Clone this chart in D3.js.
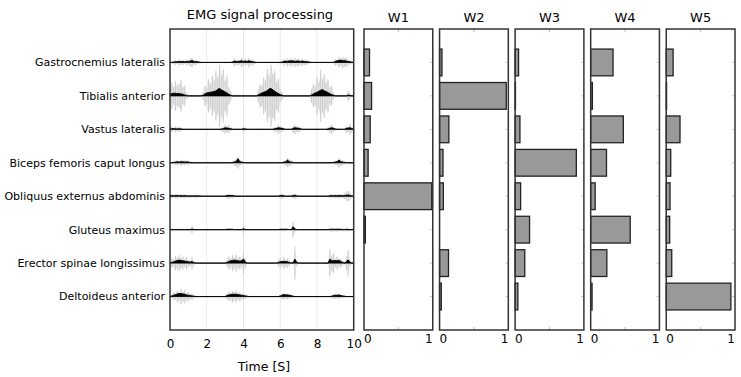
<!DOCTYPE html>
<html>
<head>
<meta charset="utf-8">
<script src="https://cdn.jsdelivr.net/npm/d3@7"></script>
<style>
  body { margin: 0; background: #fff; }
  svg { display: block; font-family: "DejaVu Sans", sans-serif; }
</style>
</head>
<body>
<div id="chart"></div>
<script>
// muscles, top to bottom
let muscles = ["Gastrocnemius lateralis", "Tibialis anterior", "Vastus lateralis", "Biceps femoris caput longus",
    "Obliquus externus abdominis", "Gluteus maximus", "Erector spinae longissimus", "Deltoideus anterior"];

let timeTicks = [0, 2, 4, 6, 8, 10];
let weightPanels = ["W1", "W2", "W3", "W4", "W5"];

// synergy weights, one array per panel, in muscle order
let w1 = [0.08, 0.11, 0.09, 0.06, 0.985, 0.02, 0, 0];
let w2 = [0.035, 0.97, 0.135, 0.05, 0.055, 0, 0.13, 0.025];
let w3 = [0.05, 0.005, 0.07, 0.89, 0.08, 0.21, 0.14, 0.04];
let w4 = [0.325, 0.025, 0.475, 0.23, 0.065, 0.575, 0.235, 0.02];
let w5 = [0.1, 0.005, 0.2, 0.065, 0.055, 0.05, 0.08, 0.94];

// EMG every 0.1 s (0..10 s), row spacing = 100 units
// raw = light gray signal amplitude, env = black processed envelope
let rawGas = [2,3,5,8,4,9,6,8,4,9, 6,12,14,7,8,4,3,2,2,2, 2,2,2,2,2,2,2,2,2,2, 2,2,2,2,3,12,7,9,6,14,
    8,11,6,14,7,9,5,2,2,2, 2,2,2,2,2,2,2,2,2,2, 2,3,10,6,12,8,13,7,14,9, 12,6,11,7,9,5,3,2,2,2,
    2,2,2,2,2,2,2,2,2,3, 10,7,16,10,18,12,15,8,6,3, 2];
let envGas = [0,0,1,2,2,3,2,3,2,3, 3,4,6,3,2,2,1,0,0,0, 0,0,0,0,0,0,0,0,0,0, 0,0,0,0,1,4,3,2,4,5,
    3,4,3,5,3,2,1,0,0,0, 0,0,0,0,0,0,0,0,0,0, 0,1,3,4,3,5,4,5,3,4, 4,3,4,3,2,2,1,0,0,0,
    0,0,0,0,0,0,0,0,0,0, 3,5,6,7,5,6,4,3,2,1, 0];

let rawTib = [20,40,25,45,30,35,48,25,30,10, 4,3,3,3,3,3,3,3,12,30, 25,50,35,60,45,75,55,93,60,80, 45,60,25,15,4,3,3,3,3,3,
    3,3,3,3,3,3,3,3,18,35, 30,55,45,80,60,93,65,75,40,50, 20,12,3,3,3,3,3,3,3,3, 3,3,3,3,3,3,3,20,35,28,
    55,40,78,50,65,40,50,25,30,10, 3,3,3,3,3,3,3,15,8,3, 3];
let envTib = [5,7,8,8,7,7,6,5,3,1, 0,0,0,0,0,0,0,0,2,6, 9,10,11,12,13,15,20,22,18,15, 12,9,5,2,0,0,0,0,0,0,
    0,0,0,0,0,0,0,0,3,6, 9,11,13,16,21,22,18,14,10,7, 4,2,0,0,0,0,0,0,0,0, 0,0,0,0,0,0,0,3,6,9,
    11,14,17,19,15,13,10,7,4,2, 0,0,0,0,0,0,0,3,1,0, 0];

let rawVas = [6,8,4,9,6,8,5,2,2,2, 2,2,2,2,2,2,2,2,2,2, 2,2,2,2,2,2,2,2,4,8, 14,9,12,6,3,2,2,2,2,2,
    10,4,2,2,2,2,2,2,2,2, 2,2,2,2,2,2,2,8,6,14, 9,8,4,2,2,2,2,10,14,8, 10,6,2,2,2,2,2,2,2,2,
    2,2,2,2,2,2,6,10,14,8, 4,2,2,2,2,2,10,7,16,8, 4];
let envVas = [1,2,2,2,1,2,1,0,0,0, 0,0,0,0,0,0,0,0,0,0, 0,0,0,0,0,0,0,0,1,2, 5,4,3,2,0,0,0,0,0,0,
    2,1,0,0,0,0,0,0,0,0, 0,0,0,0,0,0,0,2,3,5, 4,3,1,0,0,0,0,3,5,4, 3,2,0,0,0,0,0,0,0,0,
    0,0,0,0,0,0,1,3,5,3, 1,0,0,0,0,0,3,4,5,2, 1];

let rawBic = [2,2,4,6,8,5,9,6,8,5, 7,4,3,2,2,2,2,2,2,2, 2,2,2,2,2,2,2,2,2,2, 2,2,2,2,4,8,12,18,10,6,
    4,2,2,2,2,2,2,2,2,2, 2,2,2,2,2,2,2,2,2,2, 2,2,6,8,14,10,8,4,2,2, 2,2,2,2,2,2,2,2,2,2,
    2,2,2,2,2,2,2,2,2,4, 6,8,14,10,8,5,2,2,2,2, 2];
let envBic = [0,0,1,2,3,2,3,3,2,3, 2,1,0,0,0,0,0,0,0,0, 0,0,0,0,0,0,0,0,0,0, 0,0,0,0,1,2,4,12,3,2,
    1,0,0,0,0,0,0,0,0,0, 0,0,0,0,0,0,0,0,0,0, 0,0,2,3,8,3,2,1,0,0, 0,0,0,0,0,0,0,0,0,0,
    0,0,0,0,0,0,0,0,0,1, 2,3,8,3,2,1,0,0,0,0, 0];

let rawObl = [5,6,4,6,7,4,6,5,6,4, 4,5,3,3,5,4,3,2,2,2, 2,2,2,2,2,2,2,2,2,2, 2,6,8,5,6,3,2,2,2,2,
    2,2,2,2,2,2,2,2,2,2, 2,2,2,2,2,2,2,2,2,2, 6,8,4,2,2,2,2,6,8,3, 2,2,2,2,2,2,2,2,2,2,
    2,2,2,2,2,2,2,5,6,4, 6,5,7,5,6,8,14,16,10,4, 2];
let envObl = [1,2,1,2,2,1,2,1,2,1, 1,1,1,1,1,1,1,0,0,0, 0,0,0,0,0,0,0,0,0,0, 0,2,2,2,2,1,0,0,0,0,
    0,0,0,0,0,0,0,0,0,0, 0,0,0,0,0,0,0,0,0,0, 2,2,1,0,0,0,0,2,3,1, 0,0,0,0,0,0,0,0,0,0,
    0,0,0,0,0,0,0,1,2,1, 2,1,2,2,1,2,3,4,2,1, 0];

let rawGlu = [2,3,3,2,3,3,2,3,2,3, 3,3,12,3,2,2,2,2,2,2, 2,2,2,2,2,2,2,2,2,2, 2,4,5,4,3,2,2,2,2,2,
    12,4,2,2,2,2,2,2,2,2, 2,2,2,2,2,2,2,2,2,2, 4,5,5,4,3,2,2,24,8,3, 2,2,2,2,2,2,2,2,2,2,
    2,2,2,2,2,2,2,5,6,5, 5,6,4,5,3,2,6,4,2,2, 2];
let envGlu = [0,0,0,0,0,0,0,0,0,0, 0,0,2,0,0,0,0,0,0,0, 0,0,0,0,0,0,0,0,0,0, 0,1,1,1,1,0,0,0,0,0,
    3,0,0,0,0,0,0,0,0,0, 0,0,0,0,0,0,0,0,0,0, 1,1,1,1,1,0,0,9,2,0, 0,0,0,0,0,0,0,0,0,0,
    0,0,0,0,0,0,0,1,1,1, 1,1,1,1,0,0,1,0,0,0, 0];

let rawEre = [4,14,10,22,16,24,14,20,12,18, 10,8,18,6,2,2,2,2,2,2, 2,2,2,2,2,2,2,2,2,2, 2,10,20,12,24,16,26,14,20,12,
    33,14,3,2,2,2,2,2,2,2, 2,2,2,2,2,2,2,2,2,10, 16,8,18,10,14,8,2,3,50,8, 2,2,2,2,2,2,2,2,2,2,
    2,2,2,2,2,2,2,40,22,30, 12,20,10,14,6,3,20,40,8,3, 2];
let envEre = [1,2,4,6,8,9,8,7,6,5, 4,3,5,1,0,0,0,0,0,0, 0,0,0,0,0,0,0,0,0,0, 0,2,5,7,8,9,8,7,6,7,
    12,3,0,0,0,0,0,0,0,0, 0,0,0,0,0,0,0,0,0,2, 4,5,5,5,4,2,0,1,12,2, 0,0,0,0,0,0,0,0,0,0,
    0,0,0,0,0,0,0,12,8,7, 8,7,9,5,2,0,4,10,2,0, 0];

let rawDel = [2,5,12,8,18,12,24,14,20,10, 14,8,10,5,3,2,2,2,2,2, 2,2,2,2,2,2,2,2,2,2, 2,8,14,10,18,12,18,10,14,8,
    10,6,3,2,2,2,2,2,2,2, 2,2,2,2,2,2,2,2,2,2, 4,8,10,6,9,5,6,3,2,2, 2,2,2,2,2,2,2,2,2,2,
    2,2,2,2,2,2,2,2,4,6, 8,5,8,4,5,3,2,2,2,2, 2];
let envDel = [0,2,4,6,8,9,9,8,7,5, 4,3,2,1,0,0,0,0,0,0, 0,0,0,0,0,0,0,0,0,0, 0,3,5,6,7,7,7,6,5,4,
    3,2,1,0,0,0,0,0,0,0, 0,0,0,0,0,0,0,0,0,0, 2,4,6,5,5,4,3,1,0,0, 0,0,0,0,0,0,0,0,0,0,
    0,0,0,0,0,0,0,0,1,3, 4,4,5,3,2,1,0,0,0,0, 0];

let rawAll = [rawGas, rawTib, rawVas, rawBic, rawObl, rawGlu, rawEre, rawDel];
let envAll = [envGas, envTib, envVas, envBic, envObl, envGlu, envEre, envDel];
let weights = [w1, w2, w3, w4, w5];

let width = 741, height = 377;
let plotTop = 29, plotBottom = 330;

let svg = d3.create("svg").attr("width", width).attr("height", height);

let x = d3.scaleLinear().domain([0, 10]).range([170, 353.7]);
let y = d3.scaleLinear().domain([0, 900]).range([plotTop, plotBottom]);
let band = d3.scaleBand().domain(muscles).range([y(50), y(850)]).paddingInner(0.2).paddingOuter(0.1);
let panel = d3.scaleBand().domain(weightPanels).range([364, 735]).paddingInner(0.09).paddingOuter(0);
let base = (i) => (i + 1) * 100;

// ---- EMG panel ----
let emg = svg.append("g");

emg.append("g")
    .selectAll("line")
    .data([2, 4, 6, 8])
    .join("line")
        .attr("x1", d => x(d)).attr("x2", d => x(d))
        .attr("y1", plotTop).attr("y2", plotBottom)
        .attr("stroke", "#e8e8e8");

rawAll.forEach((raw, i) => {
    let g = emg.append("g");
    let pts = raw.map((v, k) => ({t: k / 10, v: v}));
    g.append("path")
        .datum(pts)
        .attr("fill", "#ededed")
        .attr("d", d3.area().x(d => x(d.t)).y0(d => y(base(i) + d.v)).y1(d => y(base(i) - d.v)));
    g.selectAll("line")
        .data(pts)
        .join("line")
            .attr("x1", d => x(d.t)).attr("x2", d => x(d.t))
            .attr("y1", d => y(base(i) - d.v)).attr("y2", d => y(base(i) + d.v))
            .attr("stroke", "#bdbdbd")
            .attr("stroke-width", 0.7);
    let env = envAll[i].map((v, k) => ({t: k / 10, v: v}));
    g.append("path")
        .datum(env)
        .attr("fill", "#000")
        .attr("stroke", "#000")
        .attr("stroke-width", 0.9)
        .attr("d", d3.area().x(d => x(d.t)).y0(y(base(i))).y1(d => y(base(i) - d.v)));
});

emg.append("rect")
    .attr("x", x(0)).attr("y", plotTop)
    .attr("width", x(10) - x(0)).attr("height", plotBottom - plotTop)
    .attr("fill", "none").attr("stroke", "#333").attr("stroke-width", 1.5);

emg.append("g")
    .attr("transform", `translate(0,${plotBottom})`)
    .call(d3.axisBottom(x).tickValues(timeTicks).tickSize(0).tickPadding(11).tickFormat(d3.format("d")))
    .call(g => g.select(".domain").remove())
    .call(g => g.selectAll("text").attr("font-size", 12).attr("fill", "#000")
        .attr("font-family", "DejaVu Sans, sans-serif").attr("dy", "0.6em"));

emg.append("text")
    .attr("x", 264).attr("y", 371)
    .attr("text-anchor", "middle").attr("font-size", 12.5)
    .text("Time [S]");

emg.append("text")
    .attr("x", 260).attr("y", 18.5)
    .attr("text-anchor", "middle").attr("font-size", 13)
    .text("EMG signal processing");

emg.append("g")
    .selectAll("text")
    .data(muscles)
    .join("text")
        .attr("x", 165)
        .attr("y", (d, i) => y(base(i)))
        .attr("dy", "0.35em")
        .attr("text-anchor", "end")
        .attr("font-size", 11)
        .text(d => d);

// ---- weight panels ----
weightPanels.forEach((name, p) => {
    let x0 = panel(name);
    let xb = d3.scaleLinear().domain([0, 1]).range([x0, x0 + panel.bandwidth()]);
    let g = svg.append("g");

    // faint ticks
    g.append("g").selectAll("line")
        .data([plotTop, plotBottom])
        .join("line")
            .attr("x1", xb(0.5)).attr("x2", xb(0.5))
            .attr("y1", d => d).attr("y2", (d, i) => i ? d - 3 : d + 3)
            .attr("stroke", "#bbb");
    g.append("g").selectAll("line")
        .data(muscles)
        .join("line")
            .attr("x1", xb(1)).attr("x2", xb(1) - 3)
            .attr("y1", (d, i) => y(base(i))).attr("y2", (d, i) => y(base(i)))
            .attr("stroke", "#ccc");

    g.append("g").selectAll("rect")
        .data(weights[p])
        .join("rect")
            .attr("x", xb(0))
            .attr("y", (d, i) => band(muscles[i]))
            .attr("width", d => xb(d) - xb(0))
            .attr("height", band.bandwidth())
            .attr("fill", "#999")
            .attr("stroke", "#222")
            .attr("stroke-width", 1.3);

    g.append("rect")
        .attr("x", xb(0)).attr("y", plotTop)
        .attr("width", xb(1) - xb(0)).attr("height", plotBottom - plotTop)
        .attr("fill", "none").attr("stroke", "#333").attr("stroke-width", 1.5);

    g.append("g").selectAll("text")
        .data([0, 1])
        .join("text")
            .attr("x", d => xb(d))
            .attr("y", 342.7)
            .attr("text-anchor", d => d ? "end" : "start")
            .attr("font-size", 12)
            .text(d => d);

    g.append("text")
        .attr("x", xb(0.5)).attr("y", 21.5)
        .attr("text-anchor", "middle").attr("font-size", 13)
        .text(name);
});

document.getElementById("chart").appendChild(svg.node());
</script>
</body>
</html>
